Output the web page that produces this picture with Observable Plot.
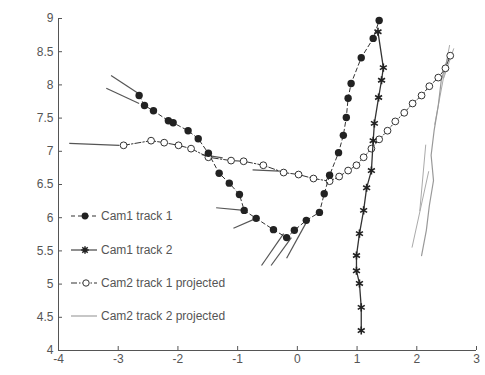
<!DOCTYPE html>
<html>
<head>
<meta charset="utf-8">
<script src="https://cdn.jsdelivr.net/npm/d3@7"></script>
<script src="https://cdn.jsdelivr.net/npm/@observablehq/plot@0.6"></script>
<style>
  html, body { margin: 0; padding: 0; background: #fff; }
  #wrap { position: relative; width: 485px; height: 375px; }
  #legend { position: absolute; left: 0; top: 0; }
  svg text { font-family: "Liberation Sans", Arial, sans-serif; }
</style>
</head>
<body>
<div id="wrap"></div>
<script>
// ---- data ----
const seriesNames = ["Cam1 track 1", "Cam1 track 2", "Cam2 track 1 projected", "Cam2 track 2 projected"];

const cam1t1X = [-2.65,-2.56,-2.41,-2.16,-2.08,-1.83,-1.66,-1.49,-1.31,-1.14,-0.97,-0.89,-0.69,-0.40,-0.18,-0.05,0.15,0.37,0.45,0.54,0.69,0.77,0.82,0.85,0.90,1.07,1.27,1.37];
const cam1t1Y = [7.84,7.69,7.61,7.46,7.43,7.31,7.19,6.97,6.67,6.52,6.35,6.11,5.99,5.82,5.70,5.81,5.96,6.08,6.36,6.64,6.98,7.24,7.51,7.80,8.02,8.41,8.70,8.97];

const cam1t2X = [1.35,1.44,1.41,1.36,1.29,1.27,1.24,1.16,1.11,1.04,0.99,0.99,1.04,1.07,1.07];
const cam1t2Y = [8.80,8.26,8.07,7.81,7.42,7.16,6.71,6.45,6.11,5.76,5.43,5.20,5.01,4.65,4.30];

const cam2t1X = [-2.91,-2.45,-2.23,-1.99,-1.78,-1.49,-1.11,-0.90,-0.57,-0.23,0.02,0.27,0.54,0.70,0.85,0.99,1.11,1.24,1.37,1.51,1.64,1.79,1.93,2.08,2.21,2.36,2.48,2.56];
const cam2t1Y = [7.09,7.16,7.13,7.09,7.04,6.91,6.86,6.85,6.79,6.68,6.65,6.59,6.55,6.62,6.71,6.79,6.91,7.04,7.18,7.31,7.45,7.58,7.72,7.84,7.98,8.11,8.25,8.44];

const cam2t2X = [2.08,2.16,2.21,2.28,2.24,2.29,2.36,2.41,2.53];
const cam2t2Y = [5.43,5.81,6.18,6.56,6.94,7.31,7.69,8.07,8.44];

// short direction segments seen next to the tracks
const segX1 = [-3.82,-3.12,-3.20,-1.36,-1.07,-0.60,-0.44,-0.18,-1.60,-0.75];
const segY1 = [7.12, 8.14, 7.95, 6.15, 5.84, 5.28, 5.28, 5.39, 6.95, 6.72];
const segX2 = [-2.98,-2.61,-2.65,-0.89,-0.69,-0.23,-0.10, 0.15,-1.25,-0.30];
const segY2 = [7.09, 7.84, 7.72, 6.11, 5.99, 5.76, 5.70, 5.93, 6.90, 6.70];

// light lines beside Cam2 track 2
const gX1 = [1.92,2.30,2.05,2.45];
const gY1 = [5.55,7.40,6.10,8.10];
const gX2 = [2.20,2.55,2.15,2.62];
const gY2 = [6.70,8.60,7.10,8.55];

const xTicks = [-4,-3,-2,-1,0,1,2,3];
const yTicks = [4,4.5,5,5.5,6,6.5,7,7.5,8,8.5,9];

// ---- build tables ----
const zip = (xs, ys) => xs.map((x, i) => ({x, y: ys[i]}));
const t1 = zip(cam1t1X, cam1t1Y);
const t2 = zip(cam1t2X, cam1t2Y);
const c1 = zip(cam2t1X, cam2t1Y);
const c2 = zip(cam2t2X, cam2t2Y);
const segs = segX1.map((x1, i) => ({x1, y1: segY1[i], x2: segX2[i], y2: segY2[i]}));
const gsegs = gX1.map((x1, i) => ({x1, y1: gY1[i], x2: gX2[i], y2: gY2[i]}));

const ink = "#333";

const chart = Plot.plot({
  width: 485,
  height: 375,
  marginLeft: 58,
  marginRight: 9,
  marginTop: 18,
  marginBottom: 25,
  style: {fontSize: "12px", fontFamily: "'Liberation Sans', Arial, sans-serif", color: "#555", background: "#fff"},
  x: {domain: [-4, 3]},
  y: {domain: [4, 9]},
  marks: [
    Plot.axisX({ticks: xTicks, tickFormat: d => String(d), tickSize: -4, tickPadding: 8, label: null, stroke: "#555"}),
    Plot.axisY({ticks: yTicks, tickFormat: d => String(d), tickSize: -4, tickPadding: 9, label: null, stroke: "#555"}),
    Plot.ruleX([-4], {stroke: "#555"}),
    Plot.ruleY([4], {stroke: "#555"}),
    // light track
    Plot.link(gsegs, {x1: "x1", y1: "y1", x2: "x2", y2: "y2", stroke: "#aaa", strokeWidth: 1}),
    Plot.line(c2, {x: "x", y: "y", stroke: "#999", strokeWidth: 1.2}),
    // segments
    Plot.link(segs, {x1: "x1", y1: "y1", x2: "x2", y2: "y2", stroke: "#555", strokeWidth: 1.2}),
    // Cam2 track 1 projected
    Plot.line(c1, {x: "x", y: "y", stroke: ink, strokeWidth: 1, strokeDasharray: "6,2,1.5,2"}),
    Plot.dot(c1, {x: "x", y: "y", r: 3.4, stroke: ink, fill: "#fff", strokeWidth: 1}),
    // Cam1 track 2
    Plot.line(t2, {x: "x", y: "y", stroke: ink, strokeWidth: 1.3}),
    Plot.dot(t2, {x: "x", y: "y", symbol: "asterisk", r: 3.8, stroke: "#222", strokeWidth: 1.6}),
    // Cam1 track 1
    Plot.line(t1, {x: "x", y: "y", stroke: ink, strokeWidth: 1, strokeDasharray: "4,3"}),
    Plot.dot(t1, {x: "x", y: "y", r: 3.7, fill: "#222", stroke: "none"})
  ]
});
document.getElementById("wrap").appendChild(chart);

// ---- legend overlay ----
const ns = "http://www.w3.org/2000/svg";
const leg = document.createElementNS(ns, "svg");
leg.setAttribute("id", "legend");
leg.setAttribute("width", 485);
leg.setAttribute("height", 375);
const rows = [
  {y: 216, dash: "4,3", marker: "dot", grey: false},
  {y: 250, dash: null, marker: "star", grey: false},
  {y: 283, dash: "6,2,1.5,2", marker: "circle", grey: false},
  {y: 316, dash: null, marker: null, grey: true}
];
rows.forEach((r, i) => {
  const ln = document.createElementNS(ns, "line");
  ln.setAttribute("x1", 71); ln.setAttribute("x2", 97);
  ln.setAttribute("y1", r.y); ln.setAttribute("y2", r.y);
  ln.setAttribute("stroke", r.grey ? "#999" : ink);
  ln.setAttribute("stroke-width", 1.1);
  if (r.dash) ln.setAttribute("stroke-dasharray", r.dash);
  leg.appendChild(ln);
  if (r.marker === "dot") {
    const c = document.createElementNS(ns, "circle");
    c.setAttribute("cx", 85); c.setAttribute("cy", r.y); c.setAttribute("r", 3.4);
    c.setAttribute("fill", "#222"); leg.appendChild(c);
  } else if (r.marker === "circle") {
    const c = document.createElementNS(ns, "circle");
    c.setAttribute("cx", 86); c.setAttribute("cy", r.y); c.setAttribute("r", 3.2);
    c.setAttribute("fill", "#fff"); c.setAttribute("stroke", ink); leg.appendChild(c);
  } else if (r.marker === "star") {
    const p = document.createElementNS(ns, "path");
    const cx = 85, cy = r.y, s = 3.8;
    p.setAttribute("d", `M${cx-s},${cy}H${cx+s}M${cx},${cy-s}V${cy+s}M${cx-2.7},${cy-2.7}L${cx+2.7},${cy+2.7}M${cx-2.7},${cy+2.7}L${cx+2.7},${cy-2.7}`);
    p.setAttribute("stroke", "#222"); p.setAttribute("stroke-width", 1.5); leg.appendChild(p);
  }
  const t = document.createElementNS(ns, "text");
  t.setAttribute("x", 101); t.setAttribute("y", r.y);
  t.setAttribute("dy", "0.35em");
  t.setAttribute("font-size", "12px");
  t.setAttribute("fill", "#555");
  t.textContent = seriesNames[i];
  leg.appendChild(t);
});
document.getElementById("wrap").appendChild(leg);
</script>
</body>
</html>
